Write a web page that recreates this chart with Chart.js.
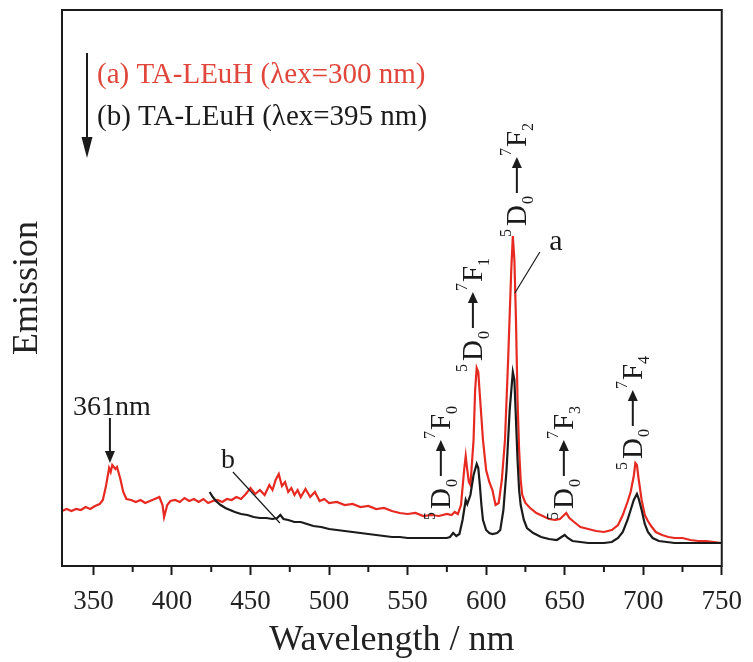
<!DOCTYPE html>
<html><head><meta charset="utf-8">
<script src="https://cdn.jsdelivr.net/npm/chart.js@4.4.1/dist/chart.umd.min.js"></script>
<style>html,body{margin:0;padding:0;background:#fff;}canvas{display:block;}</style>
</head><body>
<canvas id="c" width="753" height="662"></canvas>
<script>
// ---- data (wavelength in nm, emission in arbitrary units) ----
const wavelengthA = [330,333,336,339,342,345,348,351,354,356,358,360,361,362,364,365,367,369,371,374,377,380,383,386,389,392,394,395,397,399,402,405,408,411,414,417,420,423,426,429,432,435,438,441,444,447,450,453,456,459,462,464,466,468,470,472,474,476,478,480,482,485,488,491,494,497,500,505,510,515,520,525,530,535,540,545,550,555,560,565,570,575,578,580,582,584,586,587,588,589,590,592,593,594,595,596,598,600,602,604,606,608,610,612,614,616,617,618,619,620,621,622,623,625,628,632,636,640,644,647,649,651,653,656,660,665,670,675,680,684,687,690,692,694,695,696,697,699,701,703,705,708,712,716,720,725,730,735,740,745,750];
const emissionA = [55,57,55,57,56,59,57,60,62,66,80,98,94,101,97,99,88,74,67,66,64,66,63,65,67,69,61,49,61,65,66,64,68,65,67,64,67,63,65,66,64,67,66,69,67,72,78,72,76,71,81,76,86,92,80,84,74,78,71,76,69,77,69,74,65,67,63,64,61,62,59,60,57,58,55,53,52,53,50,51,50,52,51,54,52,61,96,110,96,84,81,126,176,198,194,171,126,96,84,76,61,63,86,126,206,296,330,306,246,166,116,86,71,63,58,53,50,47,46,47,50,53,48,44,39,37,35,34,36,41,51,64,74,90,103,101,88,66,51,45,40,34,31,29,28,28,26,25,25,24,23];
const wavelengthB = [424,426,428,431,434,437,440,444,448,452,456,460,464,467,469,471,474,478,482,486,490,495,500,505,510,515,520,525,530,535,540,545,550,555,560,565,570,575,577,579,581,583,585,587,588,590,592,594,595,596,597,598,600,602,604,607,609,611,613,615,617,618,619,620,621,622,624,626,630,635,640,645,648,650,652,655,660,665,670,675,680,684,687,690,692,694,696,697,699,701,703,706,710,715,720,730,740,750];
const emissionB = [74,69,65,61,58,56,54,52,51,49,48,48,47,48,51,47,46,44,44,42,40,39,37,36,35,34,33,32,31,30,29,29,28,28,28,28,28,28,29,33,30,32,46,66,62,71,91,102,98,81,61,46,36,33,32,33,36,56,96,156,194,186,146,106,76,61,46,38,33,29,27,26,29,31,28,25,24,23,23,23,24,28,34,46,56,66,72,68,56,42,34,28,25,24,23,23,23,23];
const majorTicks = [350,400,450,500,550,600,650,700,750];
const minorTicks = [375,425,475,525,575,625,675,725];
const legendLabels = ['(a) TA-LEuH (λex=300 nm)', '(b) TA-LEuH (λex=395 nm)'];
const transitionSubs = ['0','1','2','3','4'];

// ---- annotation placement (data coordinates) ----
const transitionAnchors = [[576.9,46],[597.3,194],[625.3,329],[655.2,46],[699.1,96]];

const FONT = '"Liberation Serif", "Times New Roman", Times, serif';
const RED = '#e62a22', RED_TXT = '#e0463b', INK = '#1b1b1b';

function arrow(ctx, x1, y1, x2, y2, head, half) {
  const ang = Math.atan2(y2 - y1, x2 - x1);
  const bx = x2 - head * Math.cos(ang), by = y2 - head * Math.sin(ang);
  ctx.beginPath(); ctx.moveTo(x1, y1); ctx.lineTo(bx, by); ctx.stroke();
  ctx.beginPath();
  ctx.moveTo(x2, y2);
  ctx.lineTo(bx + half * Math.sin(ang), by - half * Math.cos(ang));
  ctx.lineTo(bx - half * Math.sin(ang), by + half * Math.cos(ang));
  ctx.closePath(); ctx.fill();
}

function transition(ctx, X, Y, sub) {
  ctx.save();
  ctx.translate(X, Y); ctx.rotate(-Math.PI / 2);
  ctx.fillStyle = INK; ctx.strokeStyle = INK; ctx.textAlign = 'left'; ctx.textBaseline = 'alphabetic';
  ctx.font = '16px ' + FONT; ctx.fillText('5', 0, -15);
  ctx.font = '29px ' + FONT; ctx.fillText('D', 11, 0);
  ctx.font = '16px ' + FONT; ctx.fillText('0', 33, 7);
  ctx.lineWidth = 2;
  arrow(ctx, 44, -9, 80, -9, 11, 5);
  ctx.font = '16px ' + FONT; ctx.fillText('7', 81, -15);
  ctx.font = '29px ' + FONT; ctx.fillText('F', 90, 0);
  ctx.font = '16px ' + FONT; ctx.fillText(sub, 106, 7);
  ctx.restore();
}

const annot = {
  id: 'annot',
  afterDatasetsDraw(chart) {
    const { ctx, chartArea: a, scales: { x, y } } = chart;
    const P = (nm, v) => [x.getPixelForValue(nm), y.getPixelForValue(v)];
    ctx.save();
    ctx.strokeStyle = INK; ctx.fillStyle = INK; ctx.lineWidth = 2;
    ctx.strokeRect(a.left, a.top, a.right - a.left, a.bottom - a.top);
    minorTicks.forEach(t => {
      const px = x.getPixelForValue(t);
      ctx.beginPath(); ctx.moveTo(px, a.bottom); ctx.lineTo(px, a.bottom + 6); ctx.stroke();
    });
    // legend
    ctx.font = '29px ' + FONT; ctx.textAlign = 'left'; ctx.textBaseline = 'alphabetic';
    ctx.fillStyle = RED_TXT; ctx.fillText(legendLabels[0], a.left + 35, a.top + 73);
    ctx.fillStyle = INK; ctx.fillText(legendLabels[1], a.left + 35, a.top + 115);
    ctx.lineWidth = 2;
    arrow(ctx, a.left + 25, a.top + 43, a.left + 25, a.top + 148, 21, 5.5);
    // 361nm
    ctx.font = '28px ' + FONT;
    ctx.textAlign = 'center';
    const [tx, ty] = P(361.8, 151);
    ctx.fillText('361nm', tx, ty);
    const [ax1, ay1] = P(360.5, 148), [ax2, ay2] = P(360.5, 103);
    arrow(ctx, ax1, ay1, ax2, ay2, 12, 5);
    // b label
    const [bx, by] = P(435.6, 98);
    ctx.fillText('b', bx, by);
    ctx.lineWidth = 1.2;
    let [l1x, l1y] = P(438.8, 94), [l2x, l2y] = P(468.7, 43);
    ctx.beginPath(); ctx.moveTo(l1x, l1y); ctx.lineTo(l2x, l2y); ctx.stroke();
    // a label
    ctx.font = '30px ' + FONT;
    const [lax, lay] = P(644.4, 316);
    ctx.fillText('a', lax, lay);
    [l1x, l1y] = P(634.2, 314); [l2x, l2y] = P(618.3, 273);
    ctx.beginPath(); ctx.moveTo(l1x, l1y); ctx.lineTo(l2x, l2y); ctx.stroke();
    ctx.restore();
    transitionAnchors.forEach((t, i) => {
      const [X, Y] = P(t[0], t[1]);
      transition(ctx, X, Y, transitionSubs[i]);
    });
  }
};

const whiteBg = {
  id: 'whiteBg',
  beforeDraw(chart) {
    const c = chart.ctx; c.save(); c.fillStyle = '#fff'; c.fillRect(0, 0, chart.width, chart.height); c.restore();
  }
};

new Chart(document.getElementById('c'), {
  type: 'line',
  data: {
    datasets: [
      { label: 'b', data: wavelengthB.map((w, i) => ({ x: w, y: emissionB[i] })), borderColor: INK, borderWidth: 2.2, pointRadius: 0, tension: 0, fill: false },
      { label: 'a', data: wavelengthA.map((w, i) => ({ x: w, y: emissionA[i] })), borderColor: RED, borderWidth: 2.2, pointRadius: 0, tension: 0, fill: false }
    ]
  },
  options: {
    responsive: false, animation: false, devicePixelRatio: 1,
    layout: { padding: { top: 10, right: 31, left: 0, bottom: 0 } },
    plugins: { legend: { display: false }, tooltip: { enabled: false } },
    scales: {
      x: {
        type: 'linear', min: 330, max: 750,
        afterBuildTicks: s => { s.ticks = majorTicks.map(v => ({ value: v })); },
        afterFit: s => { s.height = 96; },
        grid: { display: true, drawOnChartArea: false, drawTicks: true, tickLength: 9, tickWidth: 2, tickColor: INK },
        border: { display: false },
        ticks: { color: '#222', font: { family: FONT, size: 27 }, padding: 11, maxRotation: 0, autoSkip: false },
        title: { display: true, text: 'Wavelength / nm', color: '#222', font: { family: FONT, size: 36 }, padding: { top: 0, bottom: 0 } }
      },
      y: {
        min: 0, max: 556,
        afterFit: s => { s.width = 62; },
        grid: { display: false }, border: { display: false },
        ticks: { display: false },
        title: { display: true, text: 'Emission', color: '#222', font: { family: FONT, size: 36 }, padding: { top: 6, bottom: 0 } }
      }
    }
  },
  plugins: [whiteBg, annot]
});
</script>
</body></html>
